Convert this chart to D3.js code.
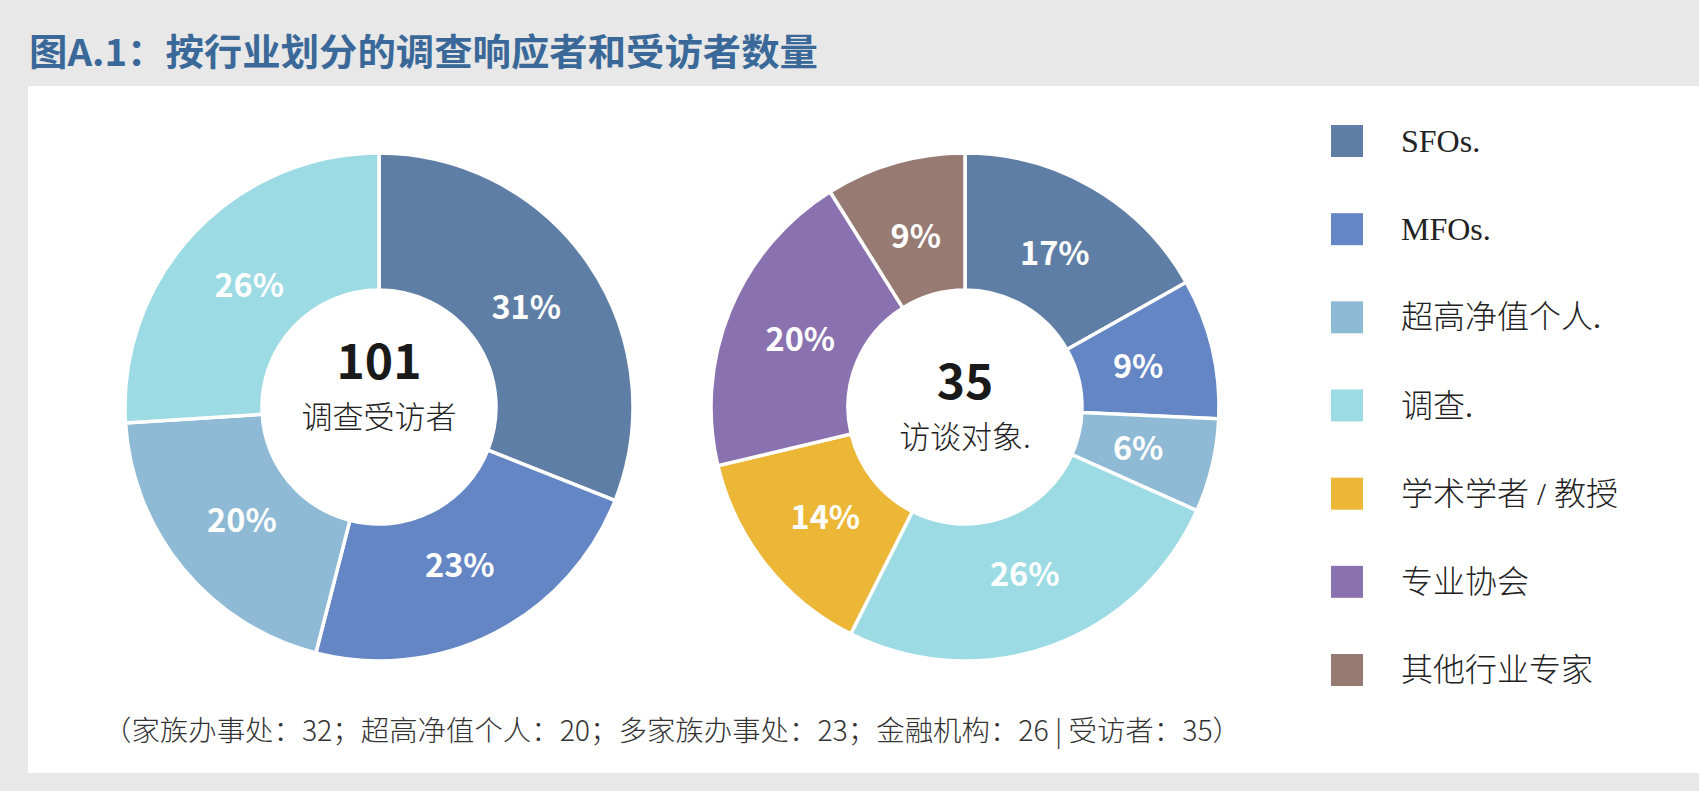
<!DOCTYPE html>
<html>
<head>
<meta charset="utf-8">
<script src="https://cdn.jsdelivr.net/npm/d3@7"></script>
<style>
  html, body { margin: 0; padding: 0; background: #e8e8e8; }
  svg { display: block; }
</style>
</head>
<body>
<div id="chart"></div>
<script>
// 图A.1 调查受访者 / 访谈对象 两个环形图 + 右侧图例
const CATS = ["SFOs.", "MFOs.", "超高净值个人.", "调查.", "学术学者 / 教授", "专业协会", "其他行业专家"];
const COLORS = ["#5f7ea6", "#6486c5", "#8fbad5", "#9cdbe3", "#ecb737", "#8a72b1", "#977a71"];

// 左环：调查受访者（%）
const SURVEY_CATS = ["SFOs.", "MFOs.", "超高净值个人.", "调查."];
const SURVEY_PCT = [31, 23, 20, 26];
// 右环：访谈对象（%）
const INTERVIEW_CATS = CATS;
const INTERVIEW_PCT = [17, 9, 6, 26, 14, 20, 9];

const TITLE = "图A.1：按行业划分的调查响应者和受访者数量";
const NOTE = "（家族办事处：32；超高净值个人：20；多家族办事处：23；金融机构：26 | 受访者：35）";

const W = 1699, H = 791;
const CJK = `"Noto Sans CJK SC", "Noto Sans", sans-serif`;
const color = d3.scaleOrdinal().domain(CATS).range(COLORS);

const svg = d3.select("#chart").append("svg")
  .attr("width", W).attr("height", H).attr("viewBox", `0 0 ${W} ${H}`);

svg.append("rect").attr("width", W).attr("height", H).attr("fill", "#e8e8e8");
svg.append("rect").attr("x", 28).attr("y", 86).attr("width", W - 28).attr("height", 687)
  .attr("fill", "#ffffff");

// 标题
svg.append("text").attr("x", 29).attr("y", 66)
  .attr("style", `font:700 37px ${CJK};fill:#3a6898`)
  .attr("textLength", 789).attr("lengthAdjust", "spacingAndGlyphs")
  .text(TITLE);

const R_OUT = 254, R_IN = 117;
const pie = d3.pie().sort(null).value(d => d.v);
const arc = d3.arc().innerRadius(R_IN).outerRadius(R_OUT);
const lblArc = d3.arc().innerRadius(178).outerRadius(178);

function donut(cx, cy, cats, vals, big, sub, dy) {
  const g = svg.append("g").attr("transform", `translate(${cx},${cy})`);
  const arcs = pie(cats.map((c, i) => ({ c, v: vals[i] })));
  g.selectAll("path").data(arcs).join("path")
    .attr("d", arc)
    .attr("fill", d => color(d.data.c))
    .attr("stroke", "#ffffff").attr("stroke-width", 3.5)
    .attr("stroke-linejoin", "miter");
  g.selectAll("text.pct").data(arcs).join("text")
    .attr("class", "pct")
    .attr("x", d => lblArc.centroid(d)[0])
    .attr("y", d => lblArc.centroid(d)[1])
    .attr("dy", "0.36em")
    .attr("text-anchor", "middle")
    .attr("style", `font:700 32.5px ${CJK};fill:#ffffff`)
    .text(d => d.data.v + "%");
  g.append("text").attr("x", 0).attr("y", -28 + dy)
    .attr("text-anchor", "middle")
    .attr("style", `font:700 48px ${CJK};fill:#1a1a1a`)
    .text(big);
  g.append("text").attr("x", 0).attr("y", 21 + dy)
    .attr("text-anchor", "middle")
    .attr("style", `font:300 31px ${CJK};fill:#222`)
    .text(sub);
}

donut(379, 407, SURVEY_CATS, SURVEY_PCT, "101", "调查受访者", 0);
donut(965, 407, INTERVIEW_CATS, INTERVIEW_PCT, "35", "访谈对象.", 20);

// 图例
const ly = d3.scalePoint().domain(CATS).range([141, 670]);
const lg = svg.append("g");
CATS.forEach(c => {
  lg.append("rect").attr("x", 1331).attr("y", ly(c) - 16)
    .attr("width", 32).attr("height", 32).attr("fill", color(c));
  lg.append("text").attr("x", 1401).attr("y", ly(c) + 11)
    .attr("style", `font:300 32px "Liberation Serif", ${CJK};fill:#222`)
    .text(c);
});

// 注释
svg.append("text").attr("x", 103).attr("y", 741)
  .attr("style", `font:300 28px ${CJK};fill:#333`)
  .attr("textLength", 1138).attr("lengthAdjust", "spacingAndGlyphs")
  .text(NOTE);
</script>
</body>
</html>
